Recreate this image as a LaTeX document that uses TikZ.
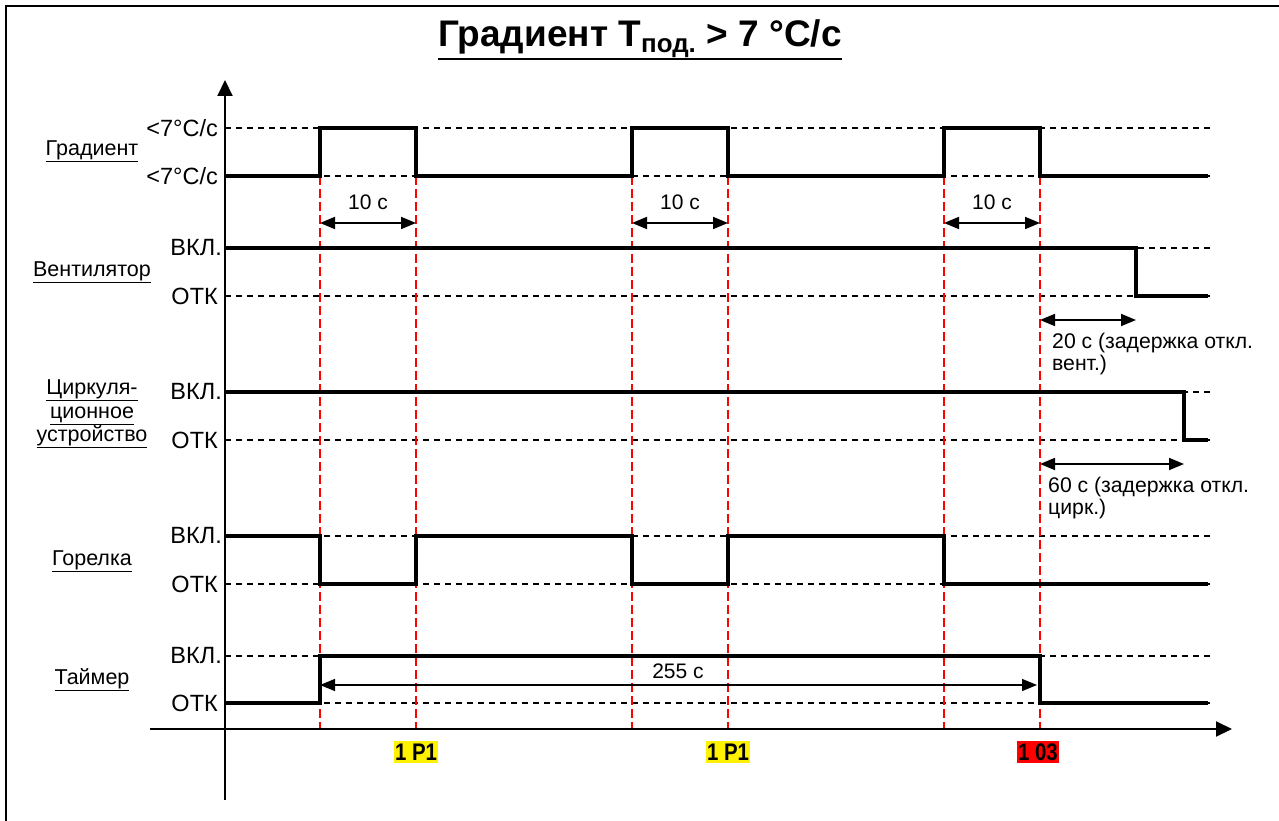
\documentclass[tikz,border=0pt]{standalone}
\usepackage{fontspec}
\setmainfont{Liberation Sans}
\usetikzlibrary{arrows.meta}
\begin{document}
\begin{tikzpicture}[x=1pt,y=-1pt,
  font=\fontsize{21}{23}\selectfont,
  sig/.style={line width=3.6pt},
  lvl/.style={line width=1.3pt, dash pattern=on 6pt off 5pt},
  redline/.style={red, line width=1.5pt, dash pattern=on 9pt off 4pt},
  dim/.style={line width=1.8pt, {Triangle[length=15pt,width=12pt]}-{Triangle[length=15pt,width=12pt]}},
  axis/.style={line width=2pt, -{Triangle[length=16pt,width=15pt]}},
  lvllabel/.style={anchor=east, inner sep=0pt, font=\fontsize{23.5}{25}\selectfont},
  namelabel/.style={align=center, inner sep=0pt, font=\fontsize{21.5}{23.5}\selectfont},
  code/.style={inner xsep=1.5pt, inner ysep=2.5pt, font=\fontsize{24}{25}\selectfont\bfseries},
  note/.style={anchor=west, align=left, inner sep=0pt, font=\fontsize{21.2}{22.5}\selectfont}
]
\useasboundingbox (0,0) rectangle (1279,821);
\draw[line width=2pt] (6,821) -- (6,6) -- (1279,6);
\node[inner sep=0pt, anchor=base] (title) at (640,47) {\fontsize{37}{40}\selectfont\bfseries Градиент T\textsubscript{под.} > 7 °C/с};
\draw[line width=2.6pt] (title.west |- 0,59) -- (title.east |- 0,59);

% level dashed lines
\foreach \yy in {128,176,248,296,392,440,536,584,656,703}
  \draw[lvl] (225,\yy) -- (1210,\yy);

% red markers
\foreach \xx in {320,416,632,728,944,1040}
  \draw[redline] (\xx,176) -- (\xx,729);

% axes
\coordinate (ybot) at (225,800);
\coordinate (ytop) at (225,80);
\coordinate (xleft) at (150,729);
\coordinate (xright) at (1232,729);
\draw[axis] (ybot) -- (ytop);
\draw[axis] (xleft) -- (xright);

% signals
\draw[sig] (225,176) -| (320,128) -| (416,176) -| (632,128) -| (728,176) -| (944,128) -| (1040,176) -- (1208,176);
\draw[sig] (225,248) -| (1136,296) -- (1208,296);
\draw[sig] (225,392) -| (1184,440) -- (1208,440);
\draw[sig] (225,536) -| (320,584) -| (416,536) -| (632,584) -| (728,536) -| (944,584) -- (1208,584);
\draw[sig] (225,703) -| (320,656) -| (1040,703) -- (1208,703);

% level labels
\node[lvllabel] (g1) at (218,128) {<7°C/c};
\node[lvllabel] (g2) at (218,176) {<7°C/c};
\node[lvllabel] (v1) at (222,248) {ВКЛ.};
\node[lvllabel] (v2) at (218,296) {ОТК};
\node[lvllabel] (c1) at (222,392) {ВКЛ.};
\node[lvllabel] (c2) at (218,440) {ОТК};
\node[lvllabel] (b1) at (222,536) {ВКЛ.};
\node[lvllabel] (b2) at (218,584) {ОТК};
\node[lvllabel] (t1) at (222,656) {ВКЛ.};
\node[lvllabel] (t2) at (218,703) {ОТК};

% names
\node[namelabel] (ng) at (92,151) {\underline{Градиент}};
\node[namelabel] (nv) at (92,272) {\underline{Вентилятор}};
\node[namelabel] (nc) at (92,414) {\underline{Циркуля-}\\\underline{ционное}\\\underline{устройство}};
\node[namelabel] (nb) at (92,561) {\underline{Горелка}};
\node[namelabel] (nt) at (92,680) {\underline{Таймер}};

% dimension arrows
\foreach \a/\b in {320/416,632/728,944/1040}{
  \coordinate (da) at (\a,223);
  \coordinate (db) at (\b,223);
  \draw[dim] (da) -- (db);
  \node at ({(\a+\b)/2},202) {10 с};
}
\coordinate (v20a) at (1040,320);
\coordinate (v20b) at (1136,320);
\draw[dim] (v20a) -- (v20b);
\node[note] (n20) at (1052,354) {20 с (задержка откл.\\вент.)};
\coordinate (c60a) at (1040,464);
\coordinate (c60b) at (1184,464);
\draw[dim] (c60a) -- (c60b);
\node[note] (n60) at (1048,498) {60 с (задержка откл.\\цирк.)};
\coordinate (t255a) at (320,685);
\coordinate (t255b) at (1037,685);
\draw[dim, line width=1.3pt] (t255a) -- (t255b);
\node (n255) at (678,671) {255 с};

% codes
\node[code, fill=yellow] (k1) at (416,752) {\scalebox{0.85}[1]{1 P1}};
\node[code, fill=yellow] (k2) at (728,752) {\scalebox{0.85}[1]{1 P1}};
\node[code, fill=red] (k3) at (1038,752) {\scalebox{0.85}[1]{1 03}};
\end{tikzpicture}
\end{document}
